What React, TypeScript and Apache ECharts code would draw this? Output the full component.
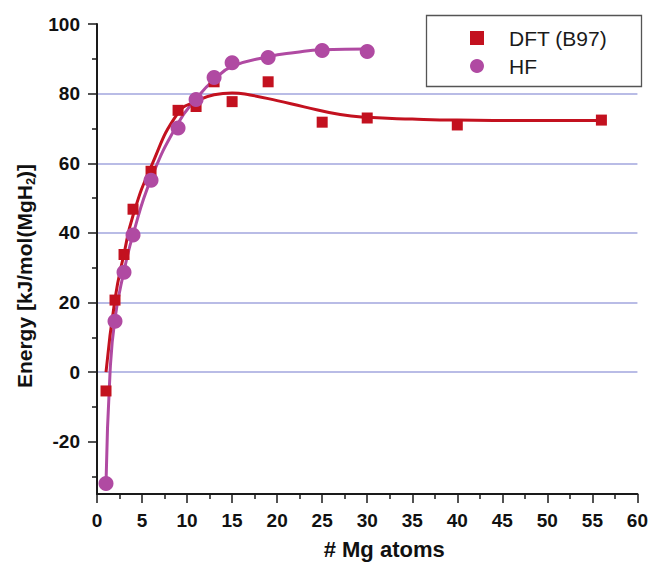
import React, { useEffect, useRef } from "react";
import * as echarts from "echarts";

// Scatter data
const dftX = [1, 2, 3, 4, 6, 9, 11, 13, 15, 19, 25, 30, 40, 56];
const dftY = [-5.4, 20.7, 33.8, 46.8, 57.7, 75.2, 76.3, 83.4, 77.7, 83.4, 71.8, 73.0, 71.0, 72.4];
const hfX = [1, 2, 3, 4, 6, 9, 11, 13, 15, 19, 25, 30];
const hfY = [-32.0, 14.6, 28.7, 39.4, 55.1, 70.1, 78.3, 84.6, 88.9, 90.4, 92.4, 92.1];

// Fitted curves
const dftFitX = [1, 2, 3, 4, 6, 9, 11, 13, 15, 17, 20, 23, 27, 30, 35, 40, 48, 56];
const dftFitY = [0, 21, 34, 45, 59, 74.5, 77.8, 79.7, 80.2, 79.6, 78, 76.2, 74, 73.2, 72.7, 72.4, 72.3, 72.3];
const hfFitX = [1, 1.45, 2, 3, 4, 6, 9, 11, 13, 15, 19, 22, 25, 30];
const hfFitY = [-32, 0, 15.5, 29, 39.5, 55.5, 71.5, 78.5, 84, 87.8, 90.6, 91.8, 92.6, 92.8];

// Axis ticks
const yMajorTicks = [-20, 0, 20, 40, 60, 80, 100];
const yMinorTicks = [-30, -10, 10, 30, 50, 70, 90];

const seriesNames = ["DFT (B97)", "HF"];
const RED = "#c3111f";
const PURPLE = "#b04aa2";
const FONT = "'Liberation Sans', Arial, Helvetica, sans-serif";

const zip = (xs: number[], ys: number[]) => xs.map((x, i) => [x, ys[i]]);

export default function App() {
  const ref = useRef<HTMLDivElement>(null);
  useEffect(() => {
    if (!ref.current) return;
    const chart = echarts.init(ref.current, undefined, { renderer: "svg" });
    const axisColor = "#1a1a1a";
    chart.setOption({
      animation: false,
      backgroundColor: "#ffffff",
      textStyle: { fontFamily: FONT },
      grid: { left: 97, right: 13, top: 24, bottom: 62, containLabel: false },
      legend: {
        data: seriesNames,
        orient: "vertical",
        left: 470,
        top: 27,
        itemWidth: 14,
        itemHeight: 14,
        itemGap: 6,
        padding: 0,
        borderWidth: 0,
        textStyle: {
          fontFamily: FONT,
          fontSize: 21,
          color: "#1a1a1a",
          lineHeight: 22,
          padding: [0, 0, 0, 20],
        },
      },
      graphic: [
        {
          type: "rect",
          left: 424,
          top: 13,
          shape: { x: 0, y: 0, width: 215, height: 71 },
          style: { fill: "none", stroke: "#555555", lineWidth: 1.3 },
          silent: true,
        },
      ],
      xAxis: {
        type: "value",
        min: 0,
        max: 60,
        interval: 5,
        name: "# Mg atoms",
        nameLocation: "middle",
        nameGap: 44,
        nameTextStyle: {
          fontFamily: FONT,
          fontSize: 22,
          fontWeight: "bold",
          color: "#111",
          padding: [0, 0, 0, 34],
        },
        axisLine: { show: true, onZero: false, lineStyle: { color: axisColor, width: 2 } },
        axisTick: { show: true, length: 9, lineStyle: { color: axisColor, width: 1.5 } },
        minorTick: { show: true, splitNumber: 2, length: 5, lineStyle: { color: axisColor, width: 1.5 } },
        axisLabel: {
          margin: 17,
          fontFamily: FONT,
          fontSize: 19,
          fontWeight: "bold",
          color: "#111",
        },
        splitLine: { show: false },
      },
      yAxis: [
        {
          type: "value",
          min: -35,
          max: 100,
          minInterval: 20,
          maxInterval: 20,
          name: "{a|Energy [kJ/mol(MgH}{sub|2}{a|)]}",
          nameLocation: "middle",
          nameGap: 56,
          nameTextStyle: {
            fontFamily: FONT,
            fontSize: 21,
            fontWeight: "bold",
            color: "#111",
            padding: [0, 34, 0, 0],
            rich: {
              a: { fontFamily: FONT, fontSize: 21, fontWeight: "bold", color: "#111", lineHeight: 26 },
              sub: {
                fontFamily: FONT,
                fontSize: 13,
                fontWeight: "bold",
                color: "#111",
                verticalAlign: "bottom",
              },
            },
          },
          axisLine: { show: true, onZero: false, lineStyle: { color: axisColor, width: 2 } },
          axisTick: {
            show: true,
            length: 9,
            customValues: yMajorTicks,
            lineStyle: { color: axisColor, width: 1.5 },
          },
          axisLabel: {
            customValues: yMajorTicks,
            margin: 17,
            fontFamily: FONT,
            fontSize: 19,
            fontWeight: "bold",
            color: "#111",
          },
          splitLine: {
            show: true,
            showMinLine: false,
            showMaxLine: false,
            lineStyle: { color: "#a2a6de", width: 1.5 },
          },
        },
        {
          type: "value",
          min: -35,
          max: 100,
          position: "left",
          offset: 0,
          axisLine: { show: false },
          axisTick: {
            show: true,
            length: 5,
            customValues: yMinorTicks,
            lineStyle: { color: axisColor, width: 1.5 },
          },
          axisLabel: { show: false },
          splitLine: { show: false },
        },
      ],
      series: [
        {
          name: "HF fit",
          type: "line",
          data: zip(hfFitX, hfFitY),
          smooth: 0.5,
          showSymbol: false,
          symbol: "none",
          lineStyle: { color: PURPLE, width: 3 },
          itemStyle: { color: PURPLE },
          z: 2,
          silent: true,
        },
        {
          name: "DFT fit",
          type: "line",
          data: zip(dftFitX, dftFitY),
          smooth: 0.5,
          showSymbol: false,
          symbol: "none",
          lineStyle: { color: RED, width: 3 },
          itemStyle: { color: RED },
          z: 3,
          silent: true,
        },
        {
          name: seriesNames[0],
          type: "scatter",
          data: zip(dftX, dftY),
          symbol: "rect",
          symbolSize: 11,
          itemStyle: { color: RED, opacity: 1 },
          z: 4,
        },
        {
          name: seriesNames[1],
          type: "scatter",
          data: zip(hfX, hfY),
          symbol: "circle",
          symbolSize: 15,
          itemStyle: { color: PURPLE, opacity: 1 },
          z: 5,
        },
      ],
    });
    return () => chart.dispose();
  }, []);
  return (
    <div
      ref={ref}
      style={{ position: "fixed", left: 0, top: 0, width: 651, height: 565, background: "#fff" }}
    />
  );
}
